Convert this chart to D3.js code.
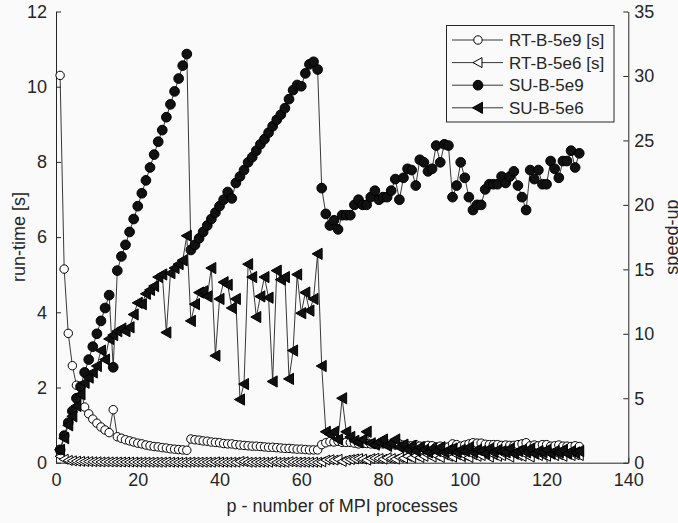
<!DOCTYPE html>
<html><head><meta charset="utf-8">
<script src="https://cdn.jsdelivr.net/npm/d3@7"></script>
<style>
html,body{margin:0;padding:0;background:#fafafa;}
svg{display:block;}
</style></head><body>
<svg id="c" width="678" height="523"></svg>
<script>
// ---------------- data ----------------
const procs = [1,2,3,4,5,6,7,8,9,10,11,12,13,14,15,16,17,18,19,20,21,22,23,24,25,26,27,28,29,30,31,32,
33,34,35,36,37,38,39,40,41,42,43,44,45,46,47,48,49,50,51,52,53,54,55,56,57,58,59,60,61,62,63,64,
65,66,67,68,69,70,71,72,73,74,75,76,77,78,79,80,81,82,83,84,85,86,87,88,89,90,91,92,93,94,95,96,
97,98,99,100,101,102,103,104,105,106,107,108,109,110,111,112,113,114,115,116,117,118,119,120,121,122,123,124,125,126,127,128];

const rt5e9 = [10.3,5.15,3.44,2.58,2.06,2.0,1.48,1.30,1.16,1.05,
0.95,0.87,0.80,1.41,0.69,0.65,0.61,0.58,0.55,0.52,
0.50,0.47,0.45,0.43,0.42,0.40,0.39,0.37,0.36,0.35,
0.34,0.33,0.63,0.61,0.60,0.58,0.57,0.55,0.54,0.53,
0.51,0.50,0.50,0.48,0.47,0.46,0.45,0.44,0.44,0.43,
0.42,0.41,0.41,0.40,0.39,0.38,0.38,0.37,0.36,0.36,
0.35,0.34,0.34,0.34,0.48,0.53,0.56,0.55,0.57,0.54,
0.54,0.54,0.52,0.50,0.51,0.51,0.50,0.49,0.50,0.50,
0.50,0.49,0.47,0.50,0.47,0.45,0.45,0.48,0.44,0.44,
0.46,0.45,0.42,0.44,0.42,0.42,0.50,0.48,0.44,0.47,
0.50,0.53,0.52,0.52,0.49,0.48,0.48,0.48,0.46,0.47,
0.46,0.46,0.48,0.50,0.53,0.45,0.47,0.45,0.48,0.48,
0.44,0.45,0.47,0.44,0.44,0.43,0.45,0.43];

const rt5e6 = [0.17,0.09,0.06,0.05,0.04,0.035,0.03,0.03,0.025,0.025,
0.02,0.022,0.02,0.02,0.018,0.018,0.018,0.017,0.016,0.015,
0.015,0.015,0.014,0.014,0.013,0.013,0.019,0.013,0.012,0.012,
0.012,0.011,0.017,0.015,0.014,0.014,0.015,0.012,0.022,0.015,
0.013,0.013,0.015,0.014,0.035,0.028,0.012,0.012,0.015,0.013,
0.012,0.013,0.027,0.012,0.012,0.012,0.026,0.02,0.012,0.015,
0.013,0.014,0.013,0.011,0.023,0.07,0.08,0.07,0.09,0.034,
0.07,0.085,0.10,0.11,0.095,0.07,0.11,0.12,0.11,0.095,
0.13,0.11,0.095,0.14,0.12,0.17,0.13,0.19,0.14,0.17,
0.21,0.15,0.19,0.14,0.21,0.17,0.15,0.21,0.17,0.19,
0.14,0.21,0.17,0.19,0.24,0.15,0.21,0.17,0.19,0.21,
0.15,0.24,0.19,0.17,0.21,0.15,0.24,0.19,0.21,0.17,
0.24,0.19,0.21,0.17,0.24,0.19,0.21,0.19];

const su5e9 = [1.0,2.1,3.1,4.0,5.0,5.9,7.0,8.0,9.0,10.0,
11.0,12.0,13.0,7.4,14.9,16.0,16.9,17.9,18.9,19.9,
20.9,21.9,22.9,23.9,24.9,25.8,26.8,27.8,28.8,29.8,
30.8,31.7,16.5,16.9,17.4,17.9,18.4,18.9,19.4,19.9,
20.4,21.0,20.5,21.7,22.2,22.7,23.3,23.7,24.2,24.7,
25.1,25.6,26.1,26.6,27.0,27.5,28.2,28.9,29.3,29.2,
30.2,30.9,31.1,30.5,21.3,19.3,18.4,18.8,18.1,19.2,
19.2,19.2,20.0,20.4,20.0,20.0,20.6,21.1,20.4,20.6,
20.6,21.1,22.0,20.4,22.1,22.8,22.7,21.5,23.5,23.3,
22.6,22.8,24.6,23.3,24.7,24.6,20.6,21.5,23.3,22.1,
20.6,19.6,20.0,20.0,21.2,21.6,21.6,21.6,22.2,21.7,
22.2,22.6,21.5,20.6,19.6,22.7,22.0,22.7,21.6,21.6,
23.4,22.8,22.1,23.4,23.4,24.2,22.9,24.0];

const su5e6 = [1.0,1.9,2.9,3.6,4.4,5.3,6.2,6.6,7.0,7.5,
8.7,8.0,9.6,9.9,10.2,10.4,10.2,10.5,11.5,12.4,
12.3,13.1,13.4,13.7,14.4,14.6,10.1,14.7,15.1,15.4,
15.7,17.6,11.0,12.3,13.2,13.3,12.9,15.1,8.3,12.7,
14.0,13.8,12.0,12.7,4.9,6.1,15.4,14.4,11.3,12.9,
14.4,12.8,6.3,14.9,14.2,14.4,6.5,8.7,14.6,11.6,
13.2,11.8,12.7,16.2,7.5,2.4,2.2,2.4,1.8,5.0,
2.4,2.0,1.7,1.6,1.8,2.4,1.5,1.4,1.6,1.8,
1.3,1.5,1.8,1.2,1.4,1.0,1.3,0.9,1.2,1.0,
0.8,1.1,0.9,1.2,0.8,1.0,1.1,0.8,1.0,0.9,
1.2,0.8,1.0,0.9,0.7,1.1,0.8,1.0,0.9,0.8,
1.1,0.7,0.9,1.0,0.8,1.1,0.7,0.9,0.8,1.0,
0.7,0.9,0.8,1.0,0.7,0.9,0.8,0.9];

const seriesNames = ["RT-B-5e9 [s]","RT-B-5e6 [s]","SU-B-5e9","SU-B-5e6"];
const xTicks = [0,20,40,60,80,100,120,140];
const leftTicks = [0,2,4,6,8,10,12];
const rightTicks = [0,5,10,15,20,25,30,35];
const xLabel = "p - number of MPI processes";
const leftLabel = "run-time [s]";
const rightLabel = "speed-up";

// ---------------- drawing ----------------
const W = 678, H = 523;
const X0 = 56, X1 = 628.3, Y0 = 462.7, Y1 = 11.5;
const axisCol = "#262626";
const FONT = "'Liberation Sans', Arial, Helvetica, sans-serif";

const x = d3.scaleLinear().domain([0,140]).range([X0,X1]);
const yL = d3.scaleLinear().domain([0,12]).range([Y0,Y1]);
const yR = d3.scaleLinear().domain([0,35]).range([Y0,Y1]);

const svg = d3.select("#c");
svg.append("rect").attr("width",W).attr("height",H).attr("fill","#fafafa");

function styleAxis(g){
  g.attr("font-family",FONT).attr("font-size",18);
  g.selectAll("path.domain").attr("stroke",axisCol).attr("stroke-width",1);
  g.selectAll(".tick line").attr("stroke",axisCol).attr("stroke-width",1);
  g.selectAll(".tick text").attr("fill",axisCol);
}

svg.append("g").attr("transform",`translate(0,${Y0})`)
  .call(d3.axisBottom(x).tickValues(xTicks).tickSize(-5).tickSizeOuter(0).tickPadding(10.5).tickFormat(d3.format("d")))
  .call(styleAxis);
svg.append("g").attr("transform",`translate(${X0},0)`)
  .call(d3.axisLeft(yL).tickValues(leftTicks).tickSize(-5).tickSizeOuter(0).tickPadding(9).tickFormat(d3.format("d")))
  .call(styleAxis);
svg.append("g").attr("transform",`translate(${X1},0)`)
  .call(d3.axisRight(yR).tickValues(rightTicks).tickSize(-5).tickSizeOuter(0).tickPadding(6).tickFormat(d3.format("d")))
  .call(styleAxis);

// axis labels
svg.append("text").attr("x",(X0+X1)/2).attr("y",512).attr("text-anchor","middle")
  .attr("font-family",FONT).attr("font-size",18).attr("fill",axisCol).text(xLabel);
svg.append("text").attr("transform",`translate(25,${(Y0+Y1)/2}) rotate(-90)`).attr("text-anchor","middle")
  .attr("font-family",FONT).attr("font-size",18).attr("fill",axisCol).text(leftLabel);
svg.append("text").attr("transform",`translate(678,${(Y0+Y1)/2}) rotate(-90)`).attr("text-anchor","middle")
  .attr("font-family",FONT).attr("font-size",18).attr("fill",axisCol).text(rightLabel);

// markers
const circleBig = d3.symbol(d3.symbolCircle, 74)();
const circleOpen = d3.symbol(d3.symbolCircle, 56)();
const triPath = "M-5.5,0L4.5,-5.6L4.5,5.6Z";
const triOpen = "M-5,0L4,-5L4,5Z";

const series = [
  {name:seriesNames[0], vals:rt5e9, y:yL, marker:circleOpen, fill:"#ffffff"},
  {name:seriesNames[1], vals:rt5e6, y:yL, marker:triOpen, fill:"#ffffff"},
  {name:seriesNames[2], vals:su5e9, y:yR, marker:circleBig, fill:"#111111"},
  {name:seriesNames[3], vals:su5e6, y:yR, marker:triPath, fill:"#111111"}
];

series.forEach(s => {
  const pts = procs.map((p,i)=>[p, s.vals[i]]);
  const g = svg.append("g");
  g.append("path").attr("d", d3.line().x(d=>x(d[0])).y(d=>s.y(d[1]))(pts))
    .attr("fill","none").attr("stroke","#222").attr("stroke-width",0.9);
  g.selectAll("path.m").data(pts).join("path").attr("class","m")
    .attr("transform",d=>`translate(${x(d[0])},${s.y(d[1])})`)
    .attr("d", s.marker).attr("fill", s.fill).attr("stroke","#000").attr("stroke-width",1);
});

// legend
const lg = svg.append("g");
lg.append("rect").attr("x",446.5).attr("y",25.5).attr("width",167.5).attr("height",96.5)
  .attr("fill","#fafafa").attr("stroke",axisCol).attr("stroke-width",1);
series.forEach((s,i)=>{
  const cy = 40 + i*22.6;
  lg.append("line").attr("x1",452).attr("x2",503).attr("y1",cy).attr("y2",cy)
    .attr("stroke","#222").attr("stroke-width",0.9);
  lg.append("path").attr("transform",`translate(478,${cy})`).attr("d",s.marker)
    .attr("fill",s.fill).attr("stroke","#000").attr("stroke-width",1);
  lg.append("text").attr("x",509).attr("y",cy).attr("dy","0.36em")
    .attr("font-family",FONT).attr("font-size",17).attr("fill",axisCol).text(s.name);
});
</script>
</body></html>
